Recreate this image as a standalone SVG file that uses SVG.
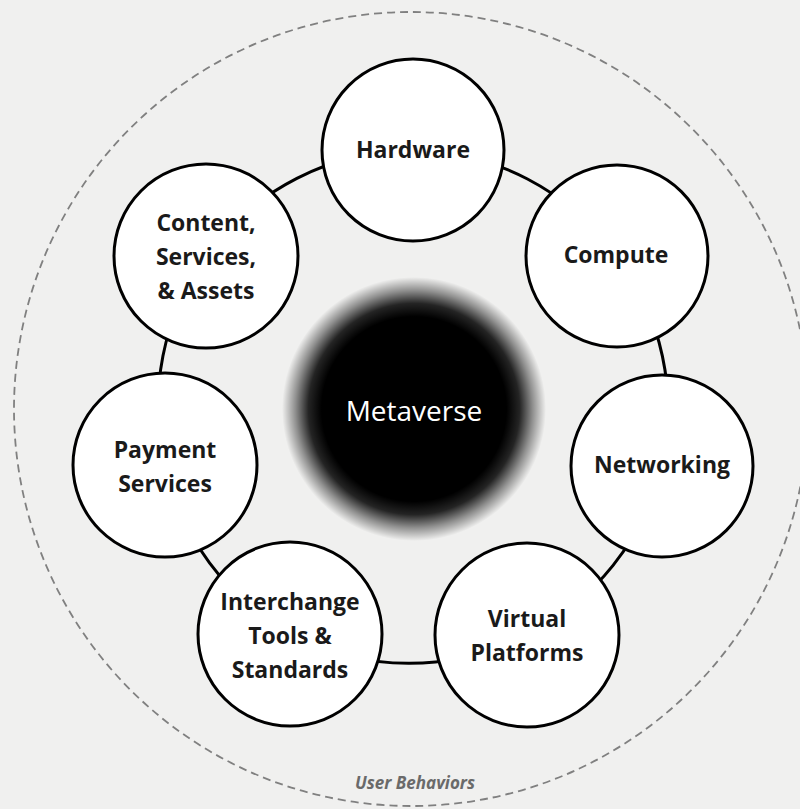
<svg xmlns="http://www.w3.org/2000/svg" width="800" height="809" viewBox="0 0 800 809">
  <defs>
    <radialGradient id="blob" cx="50%" cy="50%" r="50%">
      <stop offset="0" stop-color="#000"/>
      <stop offset="0.7" stop-color="#000"/>
      <stop offset="0.8" stop-color="#000" stop-opacity="0.85"/>
      <stop offset="0.9" stop-color="#000" stop-opacity="0.4"/>
      <stop offset="1" stop-color="#000" stop-opacity="0"/>
    </radialGradient>
    <style>
      .node circle { fill: #fff; stroke: #000; stroke-width: 3; }
      .node text { font-family: "Open Sans", "Noto Sans", "Liberation Sans", sans-serif; font-weight: 700; font-size: 23px; fill: #1a1a1a; text-anchor: middle; }
      .conn path { fill: none; stroke: #000; stroke-width: 3; }
    </style>
  </defs>
  <rect width="800" height="809" fill="#f0f0ef"/>

  <g id="user-behaviors">
    <circle cx="411" cy="409" r="397" fill="none" stroke="#808080" stroke-width="1.8" stroke-dasharray="8 5"/>
    <text x="415" y="789" font-family="'Open Sans', 'Noto Sans', 'Liberation Sans', sans-serif" font-size="17" font-style="italic" font-weight="700" fill="#6a6a6a" text-anchor="middle">User Behaviors</text>
  </g>

  <g id="metaverse">
    <circle cx="414" cy="409" r="132" fill="url(#blob)"/>
    <text x="414" y="421" font-family="'Open Sans', 'Noto Sans', 'Liberation Sans', sans-serif" font-size="28" fill="#ffffff" text-anchor="middle">Metaverse</text>
  </g>

  <g id="connectors" class="conn">
    <path d="M413 150 A258 258 0 0 1 617 256"/>
    <path d="M617 256 A258 258 0 0 1 662 466"/>
    <path d="M662 466 A258 258 0 0 1 527 635"/>
    <path d="M527 635 A258 258 0 0 1 290 634"/>
    <path d="M290 634 A258 258 0 0 1 165 465"/>
    <path d="M165 465 A258 258 0 0 1 206 256"/>
    <path d="M206 256 A258 258 0 0 1 413 150"/>
  </g>

  <g id="hardware" class="node">
    <circle cx="413" cy="150" r="91"/>
    <text x="413" y="158">Hardware</text>
  </g>
  <g id="compute" class="node">
    <circle cx="617" cy="256" r="91"/>
    <text x="616" y="263">Compute</text>
  </g>
  <g id="networking" class="node">
    <circle cx="662" cy="466" r="91"/>
    <text x="662" y="473">Networking</text>
  </g>
  <g id="virtual-platforms" class="node">
    <circle cx="527" cy="635" r="92"/>
    <text x="527" y="627">Virtual</text>
    <text x="527" y="661">Platforms</text>
  </g>
  <g id="interchange" class="node">
    <circle cx="290" cy="634" r="92"/>
    <text x="290" y="610">Interchange</text>
    <text x="290" y="644">Tools &amp;</text>
    <text x="290" y="678">Standards</text>
  </g>
  <g id="payment-services" class="node">
    <circle cx="165" cy="465" r="92"/>
    <text x="165" y="458">Payment</text>
    <text x="165" y="492">Services</text>
  </g>
  <g id="content" class="node">
    <circle cx="206" cy="256" r="92"/>
    <text x="206" y="231">Content,</text>
    <text x="206" y="265">Services,</text>
    <text x="206" y="299">&amp; Assets</text>
  </g>
</svg>
